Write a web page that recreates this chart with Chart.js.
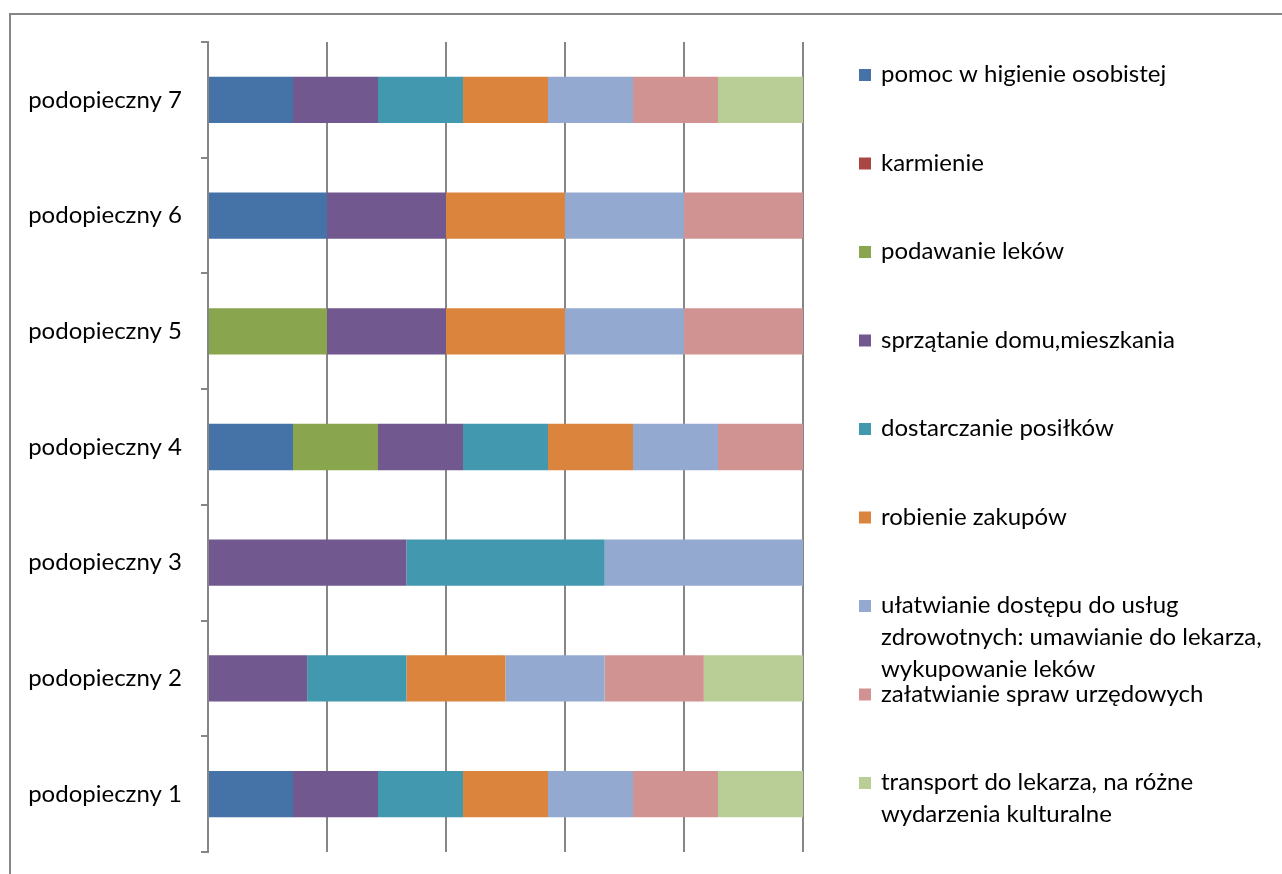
<!DOCTYPE html>
<html>
<head>
<meta charset="utf-8">
<script src="https://cdn.jsdelivr.net/npm/chart.js@4.4.1/dist/chart.umd.min.js"></script>
<style>
  html, body { margin: 0; padding: 0; background: #ffffff; overflow: hidden; }
  #wrap { position: relative; width: 1282px; height: 874px; }
</style>
</head>
<body>
<div id="wrap"><canvas id="c" width="1282" height="874"></canvas></div>
<script>
// Categories (top to bottom)
const categories = ['podopieczny 7', 'podopieczny 6', 'podopieczny 5', 'podopieczny 4', 'podopieczny 3', 'podopieczny 2', 'podopieczny 1'];

// Series names
const seriesNames = [
  'pomoc w higienie osobistej',
  'karmienie',
  'podawanie leków',
  'sprzątanie domu,mieszkania',
  'dostarczanie posiłków',
  'robienie zakupów',
  'ułatwianie dostępu do usług zdrowotnych: umawianie do lekarza, wykupowanie leków',
  'załatwianie spraw urzędowych',
  'transport do lekarza, na różne wydarzenia kulturalne'
];

// Legend text lines (as wrapped in the original)
const legendLines = [
  ['pomoc w higienie osobistej'],
  ['karmienie'],
  ['podawanie leków'],
  ['sprzątanie domu,mieszkania'],
  ['dostarczanie posiłków'],
  ['robienie zakupów'],
  ['ułatwianie dostępu do usług', 'zdrowotnych: umawianie do lekarza,', 'wykupowanie leków'],
  ['załatwianie spraw urzędowych'],
  ['transport do lekarza, na różne', 'wydarzenia kulturalne']
];

// Series values (per category, same order as categories)
const higiena      = [1, 1, 0, 1, 0, 0, 1];
const karmienie    = [0, 0, 0, 0, 0, 0, 0];
const leki         = [0, 0, 1, 1, 0, 0, 0];
const sprzatanie   = [1, 1, 1, 1, 1, 1, 1];
const posilki      = [1, 0, 0, 1, 1, 1, 1];
const zakupy       = [1, 1, 1, 1, 0, 1, 1];
const zdrowie      = [1, 1, 1, 1, 1, 1, 1];
const urzedowe     = [1, 1, 1, 1, 0, 1, 1];
const transport    = [1, 0, 0, 0, 0, 1, 1];

const seriesValues = [higiena, karmienie, leki, sprzatanie, posilki, zakupy, zdrowie, urzedowe, transport];

// X axis tick values (percent, hidden labels)
const xTicks = [0, 20, 40, 60, 80, 100];

const colors = ['#4572A7', '#AA4643', '#89A54E', '#71588F', '#4198AF', '#DB843D', '#93A9CF', '#D19392', '#B9CD96'];

const FONT = 'Lato, "Open Sans", sans-serif';

// Convert counts to percentage of each category total (100% stacked)
const totals = categories.map((_, i) => seriesValues.reduce((s, arr) => s + arr[i], 0));
const datasets = seriesNames.map((name, k) => ({
  label: name,
  data: seriesValues[k].map((v, i) => totals[i] ? v / totals[i] * 100 : 0),
  backgroundColor: colors[k],
  borderWidth: 0,
  barPercentage: 0.4,
  categoryPercentage: 1.0
}));

const framePlugin = {
  id: 'frame',
  beforeDraw(chart) {
    const ctx = chart.ctx;
    ctx.save();
    ctx.strokeStyle = '#868686';
    ctx.lineWidth = 2;
    ctx.beginPath();
    ctx.moveTo(10, 880);
    ctx.lineTo(10, 14);
    ctx.lineTo(1290, 14);
    ctx.stroke();
    ctx.restore();
  }
};

const legendPlugin = {
  id: 'customLegend',
  afterDraw(chart) {
    const ctx = chart.ctx;
    const area = chart.chartArea;
    const markerX = area.right + 56;
    const textX = area.right + 78;
    const startY = area.top + 33;
    const step = 88.5;
    const lineH = 32;
    ctx.save();
    ctx.font = '24px ' + FONT;
    ctx.fillStyle = '#000000';
    ctx.textBaseline = 'alphabetic';
    ctx.textAlign = 'left';
    chart.data.datasets.forEach((ds, k) => {
      const cy = startY + k * step;
      ctx.fillStyle = ds.backgroundColor;
      ctx.fillRect(markerX, cy - 6, 12, 12);
      ctx.fillStyle = '#000000';
      legendLines[k].forEach((line, j) => {
        ctx.fillText(line, textX, cy + 7 + j * lineH);
      });
    });
    ctx.restore();
  }
};

new Chart(document.getElementById('c'), {
  type: 'bar',
  data: { labels: categories, datasets },
  options: {
    indexAxis: 'y',
    responsive: false,
    animation: false,
    layout: { padding: { left: 0, top: 42, right: 479, bottom: 22 } },
    plugins: {
      legend: { display: false },
      tooltip: { enabled: true }
    },
    scales: {
      x: {
        stacked: true,
        min: 0,
        max: 100,
        afterBuildTicks(scale) { scale.ticks = xTicks.map(v => ({ value: v })); },
        ticks: { display: false },
        grid: { color: '#868686', lineWidth: 2, drawTicks: false },
        border: { display: false },
        afterFit(scale) { scale.height = 0; scale.paddingLeft = 0; scale.paddingRight = 0; }
      },
      y: {
        stacked: true,
        ticks: {
          color: '#000000',
          font: { family: FONT, size: 24 },
          padding: 19
        },
        grid: {
          drawOnChartArea: false,
          drawTicks: true,
          tickLength: 7,
          color: '#868686',
          lineWidth: 2
        },
        border: { display: true, color: '#868686', width: 2 },
        afterFit(scale) { scale.width = 208; scale.paddingTop = 0; scale.paddingBottom = 0; }
      }
    }
  },
  plugins: [framePlugin, legendPlugin]
});
</script>
</body>
</html>
